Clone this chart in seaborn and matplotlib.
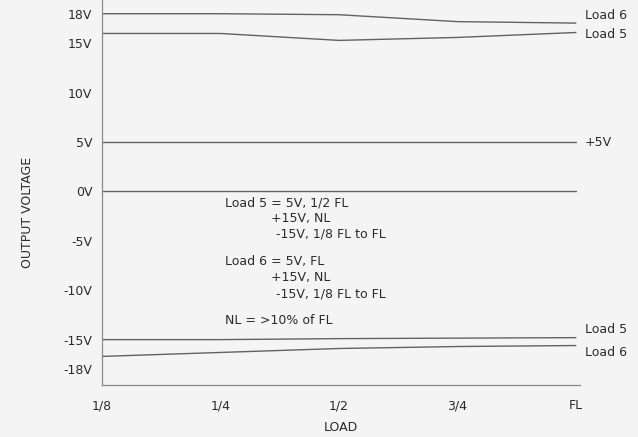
import matplotlib
matplotlib.use("Agg")
import matplotlib.pyplot as plt
import matplotlib.transforms as mtransforms
import seaborn as sns
import pandas as pd

# Load points along the x axis
loads = ["1/8", "1/4", "1/2", "3/4", "FL"]

# Output voltage of each rail versus load
load6_pos = [18.0, 18.0, 17.9, 17.2, 17.05]
load5_pos = [16.0, 16.0, 15.3, 15.6, 16.1]
plus5 = [5.0, 5.0, 5.0, 5.0, 5.0]
zero_ref = [0.0, 0.0, 0.0, 0.0, 0.0]
load5_neg = [-15.0, -15.0, -14.9, -14.85, -14.8]
load6_neg = [-16.7, -16.3, -15.9, -15.7, -15.6]

y_ticks = [18, 15, 10, 5, 0, -5, -10, -15, -18]
y_tick_labels = ["18V", "15V", "10V", "5V", "0V", "-5V", "-10V", "-15V", "-18V"]

# End-of-line labels: (text, voltage position)
end_labels = [("Load 6", 17.85), ("Load 5", 15.85), ("+5V", 5.0),
              ("Load 5", -13.95), ("Load 6", -16.3)]

notes = [
    ("Load 5 = 5V, 1/2 FL", 0.0),
    ("+15V, NL", 1.0),
    ("-15V, 1/8 FL to FL", 1.0),
    ("Load 6 = 5V, FL", 0.0),
    ("+15V, NL", 1.0),
    ("-15V, 1/8 FL to FL", 1.0),
    ("NL = >10% of FL", 0.0),
]

sns.set_style("white")
plt.rcParams["font.family"] = ["DejaVu Sans"]

ink = "#2b2b2b"
line_col = "#626262"
bg = "#f4f4f4"
fs = 9

series = {
    "load6_pos": load6_pos,
    "load5_pos": load5_pos,
    "plus5": plus5,
    "zero": zero_ref,
    "load5_neg": load5_neg,
    "load6_neg": load6_neg,
}
rows = []
for name, vals in series.items():
    for i, v in enumerate(vals):
        rows.append({"series": name, "pos": i, "volts": v})
df = pd.DataFrame(rows)

fig = plt.figure(figsize=(6.38, 4.37), dpi=100, facecolor=bg)
ax = fig.add_axes([0.160, 0.118, 0.749, 0.882])
ax.set_facecolor(bg)

sns.lineplot(data=df, x="pos", y="volts", hue="series",
             palette={k: line_col for k in series}, linewidth=1.0,
             legend=False, ax=ax, estimator=None)

ax.set_xlim(0, 4.034)
ax.set_ylim(-19.64, 19.39)

ax.set_xticks(range(len(loads)))
ax.set_xticklabels(loads)
ax.set_yticks(y_ticks)
ax.set_yticklabels(y_tick_labels)
ax.tick_params(axis="x", length=0, pad=10, labelsize=fs, labelcolor=ink)
ax.tick_params(axis="y", direction="in", length=5, width=0.8, color="#888888",
               pad=7, labelsize=fs, labelcolor=ink)

for side in ("top", "right"):
    ax.spines[side].set_visible(False)
for side in ("left", "bottom"):
    ax.spines[side].set_color("#8a8a8a")
    ax.spines[side].set_linewidth(0.9)

ax.set_xlabel("LOAD", fontsize=fs, color=ink, labelpad=6)
ax.set_ylabel("OUTPUT VOLTAGE", fontsize=fs, color=ink)
ax.yaxis.set_label_coords(-0.142, 0.45)

trans = mtransforms.blended_transform_factory(ax.transAxes, ax.transData)
for text, yv in end_labels:
    ax.text(1.0105, yv, text, transform=trans, ha="left", va="center",
            fontsize=fs, color=ink, clip_on=False)

# Test-condition notes inside the plot
note_y = [203, 218.5, 234, 262, 277.5, 294, 321]
for (text, indent), ypix in zip(notes, note_y):
    xpix = 225 + indent * (46 if text.startswith("+") else 51)
    fig.text(xpix / 638, 1 - ypix / 437, text, ha="left", va="center",
             fontsize=fs, color=ink)

fig.savefig("out.png", dpi=100, facecolor=bg)
